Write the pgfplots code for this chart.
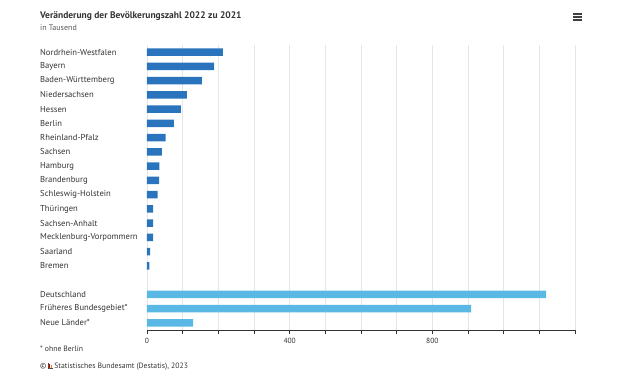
\documentclass[border=0pt]{standalone}
\usepackage{pgfplots}
\pgfplotsset{compat=1.18}
\usepackage{fontspec}
\setmainfont{PT Sans}
\definecolor{darkbar}{HTML}{2A74BD}
\definecolor{lightbar}{HTML}{5AB8E4}
\definecolor{txt}{HTML}{333333}
\definecolor{sub}{HTML}{555555}
\definecolor{gridc}{HTML}{E6E6E6}
\begin{document}
\begin{tikzpicture}
\path[use as bounding box] (0pt,0pt) rectangle (640pt,-379pt);
\begin{axis}[
  at={(147pt,-330pt)}, anchor=south west,
  scale only axis, width=428pt, height=285pt,
  xbar, bar width=7.3pt, bar shift=0pt,
  xmin=0, xmax=1200, ymin=-0.5, ymax=19.5, y dir=reverse,
  axis y line*=left, axis x line*=bottom,
  y axis line style={draw=none},
  x axis line style={draw=txt, line width=0.8pt},
  xtick={0,100,...,1200},
  xticklabels={0,,,,400,,,,800,,,,},
  xtick align=outside, major tick length=4pt,
  x tick style={draw=txt, line width=0.6pt},
  xmajorgrids, major grid style={draw=gridc, line width=0.6pt},
  /pgf/number format/assume math mode=true,
  xticklabel style={font=\fontsize{7.5}{9}\selectfont, text=txt, yshift=-1pt},
  ytick={0,1,2,3,4,5,6,7,8,9,10,11,12,13,14,15,17,18,19},
  yticklabels={Nordrhein-Westfalen,Bayern,Baden-Württemberg,Niedersachsen,Hessen,Berlin,Rheinland-Pfalz,Sachsen,Hamburg,Brandenburg,Schleswig-Holstein,Thüringen,Sachsen-Anhalt,Mecklenburg-Vorpommern,Saarland,Bremen,Deutschland,Früheres Bundesgebiet*,Neue Länder*},
  yticklabel style={anchor=west, xshift=-103pt, font=\fontsize{8.6}{10}\selectfont, text=txt, inner sep=0pt},
  y tick style={draw=none},
  clip=false,
]
\addplot[fill=darkbar, draw=none] coordinates {
(213,0) (188,1) (154,2) (112,3) (95,4) (75,5) (52,6) (42,7) (35,8) (34,9) (30,10) (17,11) (17,12) (17,13) (9,14) (7,15)};
\addplot[fill=lightbar, draw=none] coordinates {
(1119,17) (909,18) (129,19)};
\end{axis}
\node[anchor=base west, font=\bfseries\fontsize{9.5}{11}\selectfont, text=txt, inner sep=0] at (40pt,-19pt) {Veränderung der Bevölkerungszahl 2022 zu 2021};
\node[anchor=base west, font=\fontsize{8}{10}\selectfont, text=sub, inner sep=0] at (40pt,-31pt) {in Tausend};
\node[anchor=base west, font=\fontsize{7.7}{9}\selectfont, text=txt, inner sep=0] at (40pt,-352pt) {* ohne Berlin};
\node[anchor=base west, font=\fontsize{7.7}{9}\selectfont, text=txt, inner sep=0] at (40pt,-369pt) {\textcopyright\hspace{8pt}Statistisches Bundesamt (Destatis), 2023};
\fill[black!70] (47.8pt,-368.5pt) rectangle (48.6pt,-363pt);
\fill[black!70] (47.8pt,-369pt) rectangle (53pt,-368.2pt);
\fill[red!80!black] (49.3pt,-368.2pt) rectangle (50.3pt,-364pt);
\fill[orange] (50.9pt,-368.2pt) rectangle (51.9pt,-365pt);
\foreach \yy in {13.5,16.5,19.5}{\fill[black!75] (573pt,-\yy pt) rectangle (582pt,-\yy pt-1.6pt);}
\end{tikzpicture}
\end{document}
